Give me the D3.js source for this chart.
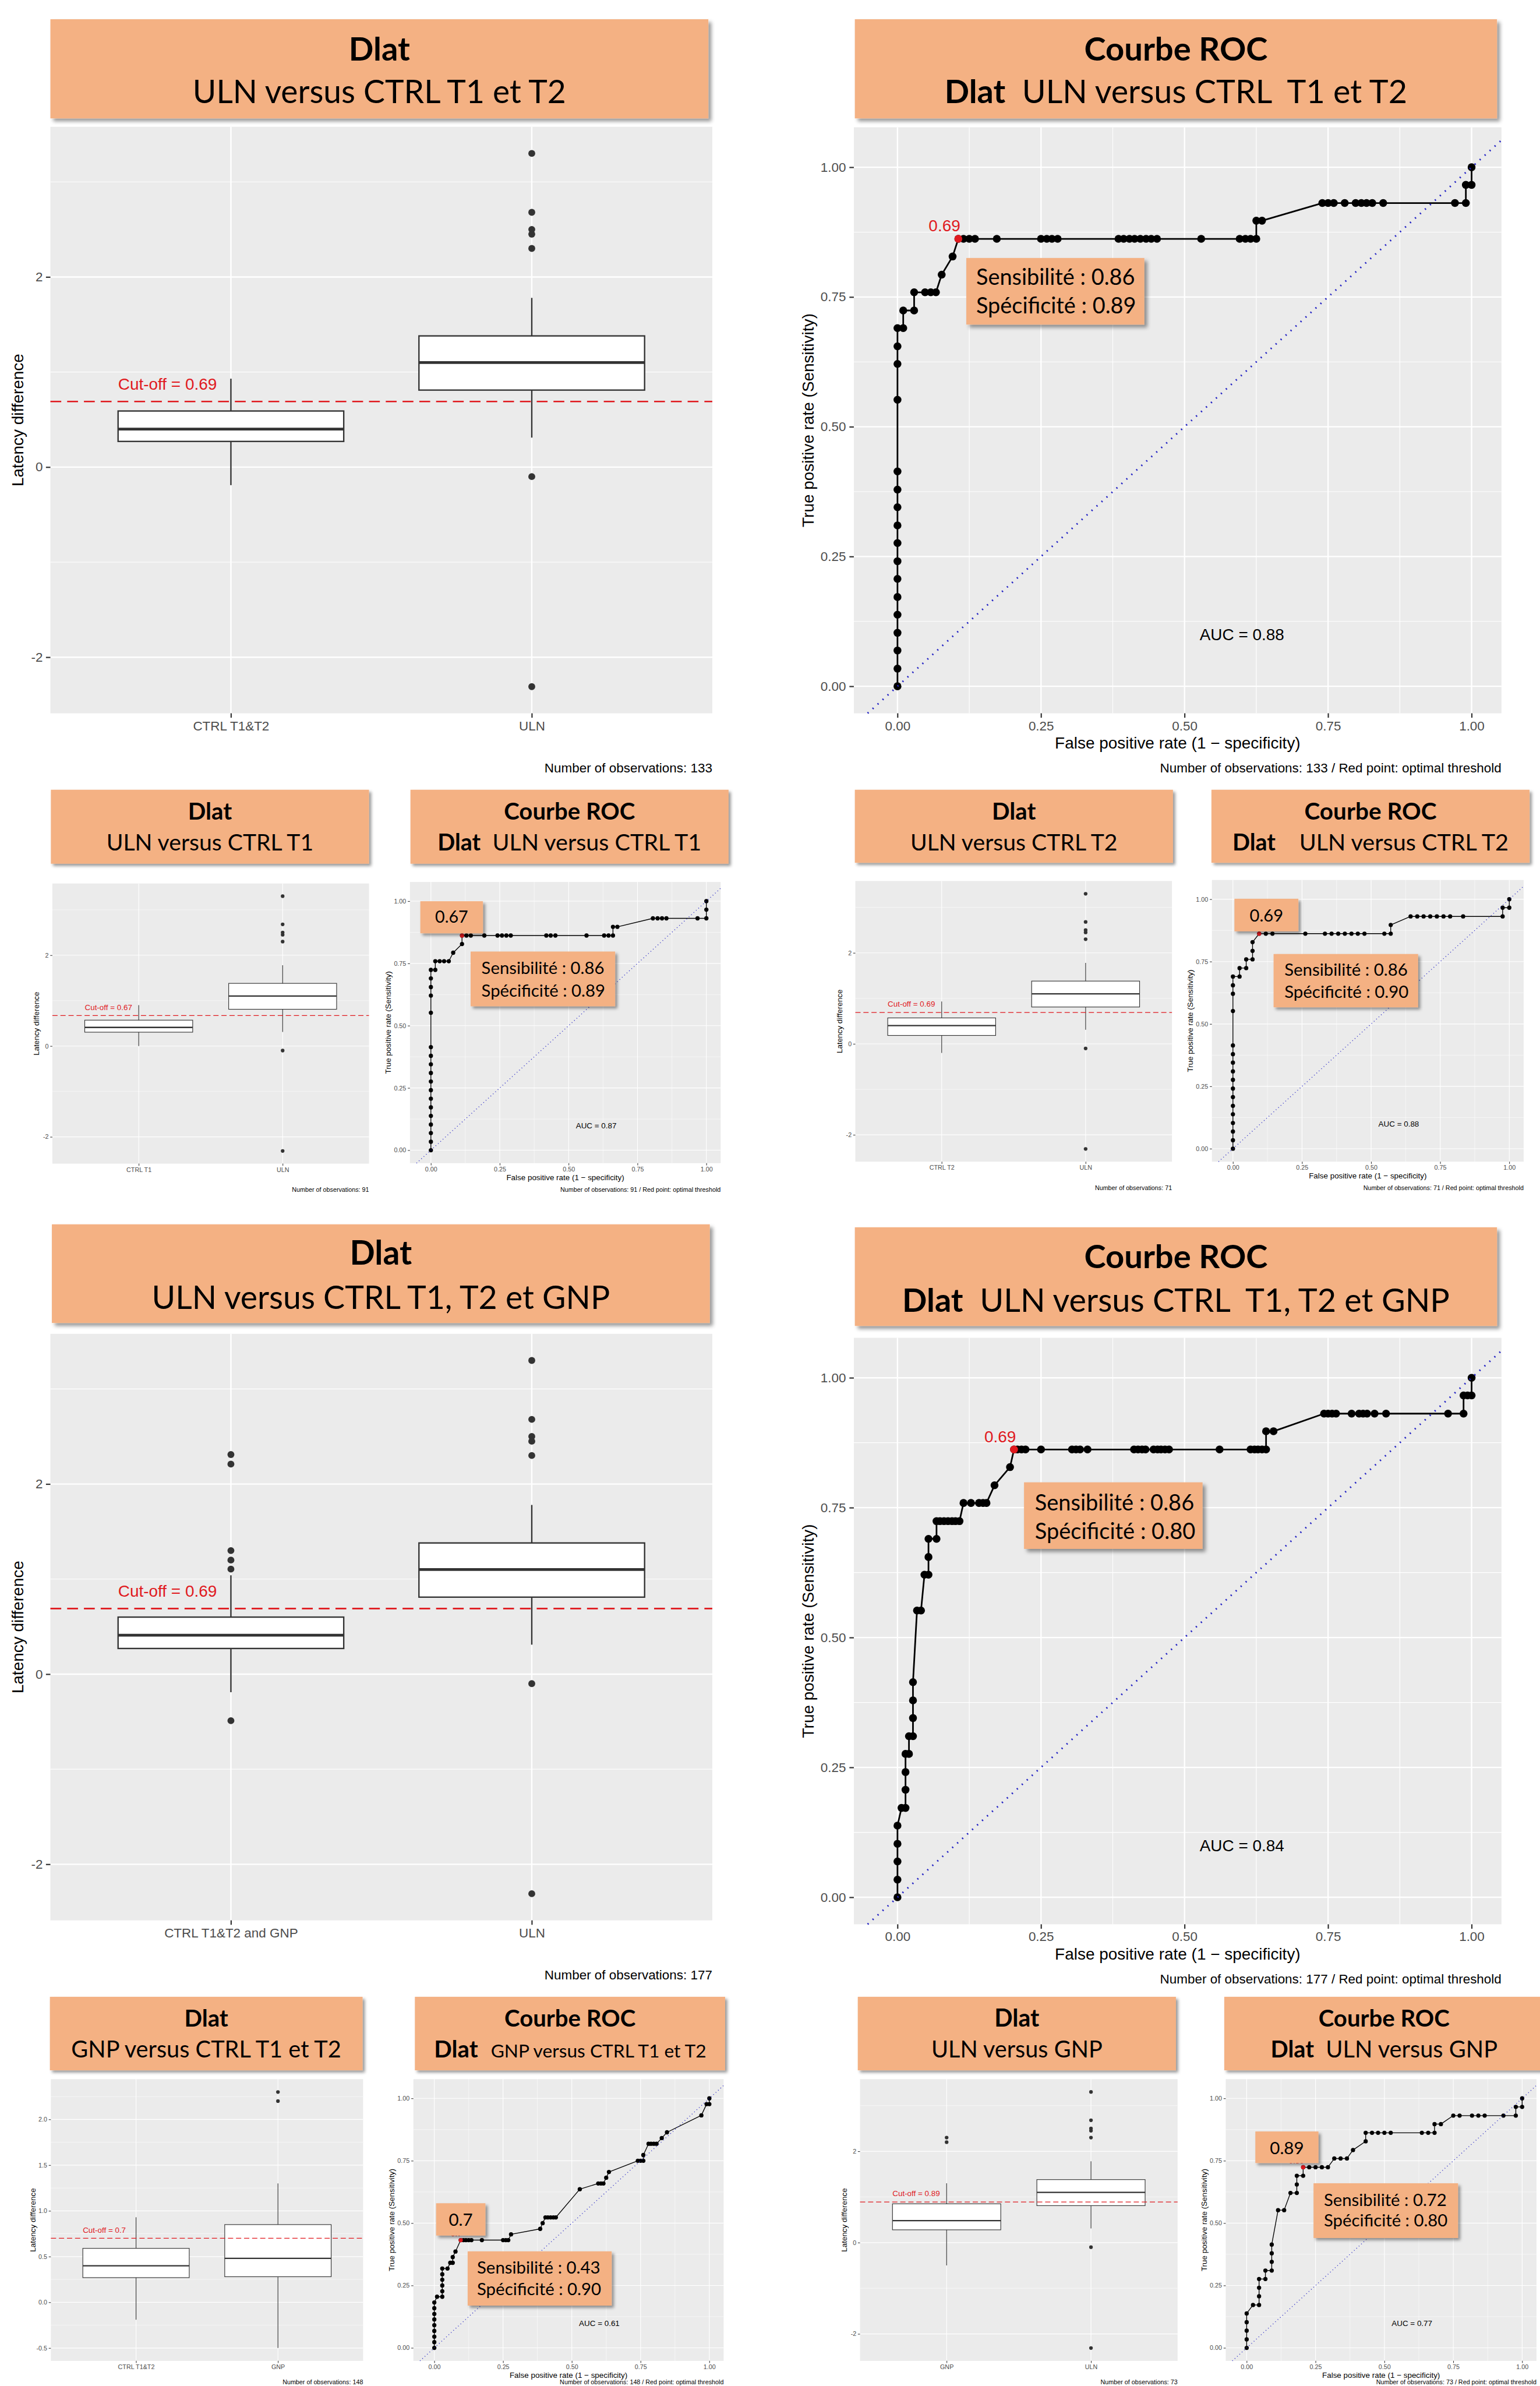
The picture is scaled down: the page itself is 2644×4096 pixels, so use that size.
<!DOCTYPE html>
<html><head><meta charset="utf-8">
<script src="https://cdn.jsdelivr.net/npm/d3@7/dist/d3.min.js"></script>
<style>html,body{margin:0;padding:0;background:#fff;} svg{display:block;}</style>
</head><body>
<script>
// ================= DATA =================
const latencyTicks = [-2, 0, 2];
const latencyMinor = [-1, 1, 3];
const gnpTicks = [-0.5, 0, 0.5, 1, 1.5, 2];
const gnpMinor = [-0.25, 0.25, 0.75, 1.25, 1.75, 2.25];
const rocTicks = [0, 0.25, 0.5, 0.75, 1];
const rocMinor = [0.125, 0.375, 0.625, 0.875];

// box stats: [lower whisker, Q1, median, Q3, upper whisker]
const statsULN = [0.31, 0.81, 1.10, 1.38, 1.78];
const outULN = [3.30, 2.68, 2.50, 2.45, 2.30, -0.10, -2.31];
const statsCtrlT1T2 = [-0.19, 0.27, 0.40, 0.59, 0.93];
const statsCtrlT1 = [0.00, 0.305, 0.41, 0.57, 0.90];
const statsCtrlT2 = [-0.20, 0.185, 0.40, 0.57, 0.93];
const statsCtrlAll = [-0.19, 0.27, 0.41, 0.60, 1.04];
const outCtrlAll = [2.31, 2.21, 1.30, 1.20, 1.105, -0.49];
const statsGNP = [-0.50, 0.28, 0.48, 0.85, 1.30];
const outGNP = [2.30, 2.20];

const cutoffs = [0.69, 0.67, 0.69, 0.69, 0.7, 0.89];
const nObs = [133, 91, 71, 177, 148, 73];
const aucValues = ['0.88', '0.87', '0.88', '0.84', '0.61', '0.77'];
const sensValues = ['0.86', '0.86', '0.86', '0.86', '0.43', '0.72'];
const specValues = ['0.89', '0.89', '0.90', '0.80', '0.90', '0.80'];
const thresholdLabels = ['0.69', '0.67', '0.69', '0.69', '0.7', '0.89'];

// ROC curves: [false positive rate, true positive rate]
const rocT1T2 = [[0,0],[0,.034],[0,.069],[0,.103],[0,.138],[0,.172],[0,.207],[0,.241],[0,.276],[0,.310],[0,.345],[0,.379],[0,.414],[0,.552],[0,.621],[0,.655],[0,.690],[.010,.690],[.010,.724],[.029,.724],[.029,.759],[.048,.759],[.058,.759],[.067,.759],[.077,.793],[.096,.828],[.106,.862],[.115,.862],[.125,.862],[.135,.862],[.173,.862],[.250,.862],[.260,.862],[.269,.862],[.279,.862],[.385,.862],[.394,.862],[.404,.862],[.413,.862],[.423,.862],[.433,.862],[.442,.862],[.452,.862],[.529,.862],[.596,.862],[.606,.862],[.615,.862],[.625,.862],[.625,.897],[.635,.897],[.740,.931],[.750,.931],[.760,.931],[.779,.931],[.798,.931],[.808,.931],[.817,.931],[.827,.931],[.846,.931],[.971,.931],[.990,.931],[.990,.966],[1,.966],[1,1]];
const optT1T2 = [.106, .862];

const rocT1 = [[0,0],[0,.034],[0,.069],[0,.103],[0,.138],[0,.172],[0,.207],[0,.241],[0,.276],[0,.310],[0,.345],[0,.379],[0,.414],[0,.552],[0,.621],[0,.655],[0,.690],[0,.724],[.016,.724],[.016,.759],[.032,.759],[.048,.759],[.065,.759],[.081,.793],[.113,.828],[.113,.862],[.129,.862],[.145,.862],[.194,.862],[.242,.862],[.258,.862],[.274,.862],[.290,.862],[.419,.862],[.435,.862],[.452,.862],[.565,.862],[.629,.862],[.645,.862],[.661,.862],[.661,.897],[.677,.897],[.806,.931],[.823,.931],[.839,.931],[.855,.931],[.968,.931],[1,.931],[1,.966],[1,1]];
const optT1 = [.113, .862];

const rocT2 = [[0,0],[0,.034],[0,.069],[0,.103],[0,.138],[0,.172],[0,.207],[0,.241],[0,.276],[0,.310],[0,.345],[0,.379],[0,.414],[0,.552],[0,.621],[0,.655],[0,.690],[.024,.690],[.024,.724],[.048,.724],[.048,.759],[.071,.759],[.071,.793],[.071,.828],[.095,.862],[.119,.862],[.143,.862],[.262,.862],[.333,.862],[.357,.862],[.381,.862],[.405,.862],[.429,.862],[.452,.862],[.476,.862],[.548,.862],[.571,.862],[.571,.897],[.643,.931],[.667,.931],[.690,.931],[.714,.931],[.738,.931],[.762,.931],[.786,.931],[.833,.931],[.976,.931],[.976,.966],[1,.966],[1,1]];
const optT2 = [.095, .862];

const rocAll = [[0,0],[0,.034],[0,.069],[0,.103],[0,.138],[.007,.172],[.014,.172],[.014,.207],[.014,.241],[.014,.276],[.020,.276],[.020,.310],[.027,.310],[.027,.345],[.027,.379],[.027,.414],[.034,.552],[.041,.552],[.047,.621],[.054,.621],[.054,.655],[.054,.690],[.068,.690],[.068,.724],[.074,.724],[.081,.724],[.088,.724],[.095,.724],[.101,.724],[.108,.724],[.115,.759],[.128,.759],[.142,.759],[.149,.759],[.155,.759],[.169,.793],[.196,.828],[.203,.862],[.209,.862],[.216,.862],[.223,.862],[.250,.862],[.304,.862],[.311,.862],[.318,.862],[.331,.862],[.412,.862],[.419,.862],[.426,.862],[.432,.862],[.446,.862],[.453,.862],[.459,.862],[.466,.862],[.473,.862],[.561,.862],[.615,.862],[.622,.862],[.628,.862],[.635,.862],[.642,.862],[.642,.897],[.655,.897],[.743,.931],[.750,.931],[.757,.931],[.764,.931],[.791,.931],[.804,.931],[.811,.931],[.818,.931],[.831,.931],[.851,.931],[.959,.931],[.986,.931],[.986,.966],[.993,.966],[1,.966],[1,1]];
const optAll = [.203, .862];

const rocGNP = [[0,0],[0,.023],[0,.045],[0,.068],[0,.091],[0,.114],[0,.136],[0,.159],[0,.182],[.010,.205],[.029,.205],[.029,.227],[.029,.250],[.029,.273],[.029,.295],[.029,.318],[.048,.318],[.058,.341],[.067,.341],[.067,.364],[.077,.386],[.096,.432],[.106,.432],[.115,.432],[.125,.432],[.135,.432],[.173,.432],[.250,.432],[.260,.432],[.269,.432],[.279,.455],[.385,.477],[.394,.500],[.404,.523],[.413,.523],[.423,.523],[.433,.523],[.442,.523],[.529,.636],[.596,.659],[.606,.659],[.615,.659],[.625,.682],[.635,.705],[.740,.750],[.750,.750],[.760,.750],[.760,.773],[.779,.818],[.788,.818],[.798,.818],[.808,.818],[.827,.841],[.846,.864],[.971,.932],[.990,.977],[1,.977],[1,1]];
const optGNP = [.096, .432];

const rocUG = [[0,0],[0,.034],[0,.069],[0,.103],[0,.138],[.023,.172],[.045,.172],[.045,.207],[.045,.241],[.045,.276],[.068,.276],[.068,.310],[.091,.310],[.091,.345],[.091,.379],[.091,.414],[.114,.552],[.136,.552],[.159,.621],[.182,.621],[.182,.655],[.182,.690],[.205,.690],[.205,.724],[.227,.724],[.250,.724],[.273,.724],[.295,.724],[.318,.759],[.341,.759],[.364,.759],[.386,.793],[.432,.828],[.432,.862],[.455,.862],[.477,.862],[.500,.862],[.523,.862],[.636,.862],[.659,.862],[.682,.862],[.682,.897],[.705,.897],[.750,.931],[.773,.931],[.818,.931],[.841,.931],[.864,.931],[.932,.931],[.977,.931],[.977,.966],[1,.966],[1,1]];
const optUG = [.205, .724];

// ================= LAYOUT =================
const FONT = "'Liberation Sans', Arial, Helvetica, sans-serif";
const TFONT = "Lato, 'Open Sans', sans-serif";
const ORANGE = '#F4B183';
const RED = '#E0191E';
const VIEW_H = 4837;

const svg = d3.select('body').append('svg')
  .attr('width', 2644).attr('height', 4096)
  .attr('viewBox', '0 0 3122 4837');
const defs = svg.append('defs');
function shadow(id, d, s) {
  const f = defs.append('filter').attr('id', id)
    .attr('x', '-10%').attr('y', '-15%').attr('width', '125%').attr('height', '140%');
  f.append('feDropShadow').attr('dx', d).attr('dy', d).attr('stdDeviation', s)
    .attr('flood-color', '#000').attr('flood-opacity', 0.4);
}
shadow('shBig', 6, 4);
shadow('shSmall', 4.5, 3);

function fitText(t, w) {
  t.attr('font-size', 100);
  const bw = t.node().getComputedTextLength();
  t.attr('font-size', 100 * w / bw);
  return 100 * w / bw;
}

function titleBox(tb) {
  const [bx0, by0, bx1, by1] = tb.box;
  const g = svg.append('g');
  g.append('rect').attr('x', bx0).attr('y', by0).attr('width', bx1 - bx0).attr('height', by1 - by0)
    .attr('fill', ORANGE).attr('filter', tb.big ? 'url(#shBig)' : 'url(#shSmall)');
  const cxDef = tb.cx != null ? tb.cx : (bx0 + bx1) / 2;
  tb.lines.forEach(l => {
    const t = g.append('text')
      .attr('x', l.x != null ? l.x : cxDef).attr('y', l.y)
      .attr('text-anchor', l.anchor || 'middle')
      .attr('font-family', TFONT).attr('fill', '#000')
      .style('white-space', 'pre');
    l.spans.forEach(s => t.append('tspan').attr('font-weight', s[1]).text(s[0]));
    fitText(t, l.w);
  });
}

const titleBoxes = [
  {box:[102,39,1436,240], big:true, lines:[{y:122.5,w:124,spans:[['Dlat',700]]},{y:209,w:757,spans:[['ULN versus CTRL T1 et T2',400]]}]},
  {box:[1733,39,3035,240], big:true, lines:[{y:122.5,w:372,spans:[['Courbe ROC',700]]},{y:209,w:938,spans:[['Dlat',700],['  ULN versus CTRL  T1 et T2',400]]}]},
  {box:[103,1601,748,1751], lines:[{y:1661,w:89,spans:[['Dlat',700]]},{y:1724,w:420,spans:[['ULN versus CTRL T1',400]]}]},
  {box:[832,1601,1477,1751], lines:[{y:1661,w:266,spans:[['Courbe ROC',700]]},{y:1724,w:535,spans:[['Dlat',700],['  ULN versus CTRL T1',400]]}]},
  {box:[1733,1601,2378,1749], lines:[{y:1661,w:89,spans:[['Dlat',700]]},{y:1724,w:420,spans:[['ULN versus CTRL T2',400]]}]},
  {box:[2456,1601,3101,1749], lines:[{y:1661,w:268,spans:[['Courbe ROC',700]]},{y:1724,w:560,spans:[['Dlat',700],['    ULN versus CTRL T2',400]]}]},
  {box:[105,2482,1439,2682], big:true, lines:[{y:2564,w:126,spans:[['Dlat',700]]},{y:2653.5,w:929,spans:[['ULN versus CTRL T1, T2 et GNP',400]]}]},
  {box:[1733,2488,3035,2688], big:true, lines:[{y:2571,w:372,spans:[['Courbe ROC',700]]},{y:2659.5,w:1110,spans:[['Dlat',700],['  ULN versus CTRL  T1, T2 et GNP',400]]}]},
  {box:[101,4048,735,4197], lines:[{y:4108.7,w:89,spans:[['Dlat',700]]},{y:4171.5,w:547.6,spans:[['GNP versus CTRL T1 et T2',400]]}]},
  {box:[841,4048,1470,4197], lines:[{y:4108.7,w:266,spans:[['Courbe ROC',700]]},{y:4171.5,x:880,anchor:'start',w:89,spans:[['Dlat',700]]},{y:4171.5,x:995,anchor:'start',w:437,spans:[['GNP versus CTRL T1 et T2',400]]}]},
  {box:[1739,4048,2384,4197], lines:[{y:4108.7,w:91,spans:[['Dlat',700]]},{y:4171.5,w:347,spans:[['ULN versus GNP',400]]}]},
  {box:[2482,4048,3135,4197], cx:2806, lines:[{y:4108.7,w:266,spans:[['Courbe ROC',700]]},{y:4171.5,w:460,spans:[['Dlat',700],['  ULN versus GNP',400]]}]}
];

const boxPanels = [
  {x0:102,x1:1444,y0:257,y1:1446,k:1,ydom:[-2.59,3.58],ticks:latencyTicks,minor:latencyMinor,fmt:d=>String(d),cats:['CTRL T1&T2','ULN'],groups:[[statsCtrlT1T2,[]],[statsULN,outULN]],i:0,tOff:55,r:7},
  {x0:106,x1:748,y0:1791,y1:2359,k:0.48,ydom:[-2.59,3.58],ticks:latencyTicks,minor:latencyMinor,fmt:d=>String(d),cats:['CTRL T1','ULN'],groups:[[statsCtrlT1,[]],[statsULN,outULN]],i:1,tOff:26.5,r:3.7},
  {x0:1734,x1:2376,y0:1786,y1:2355,k:0.48,ydom:[-2.59,3.58],ticks:latencyTicks,minor:latencyMinor,fmt:d=>String(d),cats:['CTRL T2','ULN'],groups:[[statsCtrlT2,[]],[statsULN,outULN]],i:2,tOff:26.5,r:3.7},
  {x0:102,x1:1444,y0:2704,y1:3893,k:1,ydom:[-2.59,3.58],ticks:latencyTicks,minor:latencyMinor,fmt:d=>String(d),cats:['CTRL T1&T2 and GNP','ULN'],groups:[[statsCtrlAll,outCtrlAll],[statsULN,outULN]],i:3,tOff:55,r:7},
  {x0:103,x1:736,y0:4215,y1:4786,k:0.48,ydom:[-0.64,2.44],ticks:gnpTicks,minor:gnpMinor,fmt:d=>d.toFixed(1),cats:['CTRL T1&T2','GNP'],groups:[[statsCtrlT1T2,[]],[statsGNP,outGNP]],i:4,tOff:31,r:3.7},
  {x0:1743.5,x1:2387.4,y0:4215,y1:4786,k:0.48,ydom:[-2.59,3.58],ticks:latencyTicks,minor:latencyMinor,fmt:d=>String(d),cats:['GNP','ULN'],groups:[[statsGNP,outGNP],[statsULN,outULN]],i:5,tOff:26.5,r:3.7}
];

const rocPanels = [
  {x0:1731,x1:3044,y0:258,y1:1446,k:1,data:rocT1T2,opt:optT1T2,i:0,r:8,
   sens:{box:[1959,523,2320,658],tx:1979,b1:577.5,b2:635,w:322,big:true}},
  {x0:831,x1:1461,y0:1788,y1:2358,k:0.48,data:rocT1,opt:optT1,i:1,r:4.3,
   sens:{box:[954,1929,1247,2040],tx:976,b1:1975,b2:2020,w:249},
   val:{box:[852,1827,979,1892],cx:915.5,b:1870.7,w:67}},
  {x0:2457,x1:3089,y0:1784,y1:2355,k:0.48,data:rocT2,opt:optT2,i:2,r:4.3,
   sens:{box:[2582,1934,2875,2042],tx:2604,b1:1977.7,b2:2023,w:250},
   val:{box:[2502.6,1822,2632.3,1888],cx:2567.5,b:1868,w:68}},
  {x0:1731,x1:3044,y0:2712,y1:3901,k:1,data:rocAll,opt:optAll,i:3,r:8,
   sens:{box:[2076,3005,2438,3140],tx:2098,b1:3062,b2:3119.5,w:323,big:true}},
  {x0:838,x1:1467,y0:4215,y1:4786,k:0.48,data:rocGNP,opt:optGNP,i:4,r:4.3,
   sens:{box:[948,4564,1240,4674],tx:967,b1:4609,b2:4653,w:250},
   val:{box:[884,4466.5,984,4532],cx:934,b:4511.7,w:48.7}},
  {x0:2485,x1:3115,y0:4215,y1:4786,k:0.48,data:rocUG,opt:optUG,i:5,r:4.3,
   sens:{box:[2663,4426,2956,4537],tx:2684,b1:4471.6,b2:4513.8,w:249},
   val:{box:[2545,4321,2673,4385],cx:2609,b:4367,w:69}}
];

// caption baseline: below the panel, kept inside the picture
function captionY(p) { return Math.min(p.y1 + 120 * p.k, VIEW_H - 3); }

function styleAxis(ga, k) {
  ga.select('.domain').remove();
  ga.selectAll('.tick line').attr('stroke', '#333333').attr('stroke-width', 2.6 * k);
  ga.selectAll('.tick text').attr('fill', '#4D4D4D').attr('font-size', 26.5 * k).attr('font-family', FONT);
}

function boxPanel(p) {
  const k = p.k, g = svg.append('g');
  const x = d3.scaleLinear().domain([0.4, 2.6]).range([p.x0, p.x1]);
  const y = d3.scaleLinear().domain(p.ydom).range([p.y1, p.y0]);
  g.append('rect').attr('x', p.x0).attr('y', p.y0).attr('width', p.x1 - p.x0).attr('height', p.y1 - p.y0).attr('fill', '#EBEBEB');
  g.selectAll('line.mi').data(p.minor.filter(v => v > p.ydom[0] && v < p.ydom[1])).join('line').attr('class', 'mi')
    .attr('x1', p.x0).attr('x2', p.x1).attr('y1', d => y(d)).attr('y2', d => y(d))
    .attr('stroke', '#fff').attr('stroke-width', 1.4 * k);
  g.selectAll('line.ma').data(p.ticks).join('line').attr('class', 'ma')
    .attr('x1', p.x0).attr('x2', p.x1).attr('y1', d => y(d)).attr('y2', d => y(d))
    .attr('stroke', '#fff').attr('stroke-width', 2.8 * k);
  g.selectAll('line.vg').data([1, 2]).join('line').attr('class', 'vg')
    .attr('x1', d => x(d)).attr('x2', d => x(d)).attr('y1', p.y0).attr('y2', p.y1)
    .attr('stroke', '#fff').attr('stroke-width', 2.8 * k);
  const hw = x(1.375) - x(1);
  p.groups.forEach((grp, j) => {
    const s = grp[0], outs = grp[1], cx = x(j + 1);
    g.append('line').attr('x1', cx).attr('x2', cx).attr('y1', y(s[0])).attr('y2', y(s[4]))
      .attr('stroke', '#333333').attr('stroke-width', 2.8 * k);
    g.append('rect').attr('x', cx - hw).attr('width', 2 * hw).attr('y', y(s[3])).attr('height', y(s[1]) - y(s[3]))
      .attr('fill', '#fff').attr('stroke', '#333333').attr('stroke-width', 2.8 * k);
    g.append('line').attr('x1', cx - hw).attr('x2', cx + hw).attr('y1', y(s[2])).attr('y2', y(s[2]))
      .attr('stroke', '#333333').attr('stroke-width', 5.6 * k);
    g.selectAll(null).data(outs).join('circle').attr('cx', cx).attr('cy', d => y(d)).attr('r', p.r).attr('fill', '#333333');
  });
  const cut = cutoffs[p.i];
  g.append('line').attr('x1', p.x0).attr('x2', p.x1).attr('y1', y(cut)).attr('y2', y(cut))
    .attr('stroke', RED).attr('stroke-width', 3 * k).attr('stroke-dasharray', `${22 * k} ${12 * k}`);
  g.append('text').attr('x', x(1) - hw).attr('y', y(cut) - 24 * k).attr('fill', RED)
    .attr('font-family', FONT).attr('font-size', 33 * k).text('Cut-off = ' + cut);
  const ya = d3.axisLeft(y).tickValues(p.ticks).tickFormat(p.fmt).tickSize(9 * k).tickPadding(6.5 * k);
  styleAxis(g.append('g').attr('transform', `translate(${p.x0},0)`).call(ya), k);
  const xa = d3.axisBottom(x).tickValues([1, 2]).tickFormat((d, i) => p.cats[i]).tickSize(9 * k).tickPadding(6.5 * k);
  styleAxis(g.append('g').attr('transform', `translate(0,${p.y1})`).call(xa), k);
  g.append('text').attr('transform', `translate(${p.x0 - p.tOff},${(p.y0 + p.y1) / 2}) rotate(-90)`)
    .attr('text-anchor', 'middle').attr('font-family', FONT).attr('font-size', 33 * k).attr('fill', '#000')
    .text('Latency difference');
  g.append('text').attr('x', p.x1).attr('y', captionY(p)).attr('text-anchor', 'end')
    .attr('font-family', FONT).attr('font-size', 26.5 * k).attr('fill', '#000')
    .text('Number of observations: ' + nObs[p.i]);
}

function overlayBox(g, b, big) {
  g.append('rect').attr('x', b[0]).attr('y', b[1]).attr('width', b[2] - b[0]).attr('height', b[3] - b[1])
    .attr('fill', ORANGE).attr('filter', big ? 'url(#shBig)' : 'url(#shSmall)');
}

function rocPanel(p) {
  const k = p.k, g = svg.append('g');
  const x = d3.scaleLinear().domain([-0.076, 1.052]).range([p.x0, p.x1]);
  const y = d3.scaleLinear().domain([-0.052, 1.077]).range([p.y1, p.y0]);
  g.append('rect').attr('x', p.x0).attr('y', p.y0).attr('width', p.x1 - p.x0).attr('height', p.y1 - p.y0).attr('fill', '#EBEBEB');
  [[rocMinor, 1.4], [rocTicks, 2.8]].forEach(([vals, w]) => {
    g.selectAll(null).data(vals).join('line')
      .attr('x1', p.x0).attr('x2', p.x1).attr('y1', d => y(d)).attr('y2', d => y(d))
      .attr('stroke', '#fff').attr('stroke-width', w * k);
    g.selectAll(null).data(vals).join('line')
      .attr('x1', d => x(d)).attr('x2', d => x(d)).attr('y1', p.y0).attr('y2', p.y1)
      .attr('stroke', '#fff').attr('stroke-width', w * k);
  });
  const line = d3.line().x(d => x(d[0])).y(d => y(d[1]));
  g.append('path').datum(p.data).attr('d', line).attr('fill', 'none')
    .attr('stroke', '#000').attr('stroke-width', 3.3 * k).attr('stroke-linejoin', 'round');
  g.selectAll(null).data(p.data).join('circle')
    .attr('cx', d => x(d[0])).attr('cy', d => y(d[1])).attr('r', p.r).attr('fill', '#000');
  g.append('circle').attr('cx', x(p.opt[0])).attr('cy', y(p.opt[1])).attr('r', p.r).attr('fill', RED);
  g.append('text').attr('x', x(p.opt[0]) + 4 * k).attr('y', y(p.opt[1]) - 15 * k)
    .attr('text-anchor', 'end').attr('fill', RED).attr('font-family', FONT).attr('font-size', 33 * k)
    .text(thresholdLabels[p.i]);
  const t0 = Math.max(x.domain()[0], y.domain()[0]), t1 = Math.min(x.domain()[1], y.domain()[1]);
  g.append('line').attr('x1', x(t0)).attr('y1', y(t0)).attr('x2', x(t1)).attr('y2', y(t1))
    .attr('stroke', '#2424C4').attr('stroke-width', 3.6 * k).attr('stroke-dasharray', `${2.6 * k} ${11 * k}`);
  g.append('text').attr('x', x(0.6)).attr('y', y(0.1)).attr('dy', '0.36em').attr('text-anchor', 'middle')
    .attr('font-family', FONT).attr('font-size', 33 * k).attr('fill', '#000').text('AUC = ' + aucValues[p.i]);
  const ya = d3.axisLeft(y).tickValues(rocTicks).tickFormat(d => d.toFixed(2)).tickSize(9 * k).tickPadding(7 * k);
  styleAxis(g.append('g').attr('transform', `translate(${p.x0},0)`).call(ya), k);
  const xa = d3.axisBottom(x).tickValues(rocTicks).tickFormat(d => d.toFixed(2)).tickSize(9 * k).tickPadding(6.5 * k);
  styleAxis(g.append('g').attr('transform', `translate(0,${p.y1})`).call(xa), k);
  g.append('text').attr('transform', `translate(${p.x0 - 81 * k},${(p.y0 + p.y1) / 2}) rotate(-90)`)
    .attr('text-anchor', 'middle').attr('font-family', FONT).attr('font-size', 33 * k).attr('fill', '#000')
    .text('True positive rate (Sensitivity)');
  g.append('text').attr('x', (p.x0 + p.x1) / 2).attr('y', p.y1 + 72 * k).attr('text-anchor', 'middle')
    .attr('font-family', FONT).attr('font-size', 33 * k).attr('fill', '#000')
    .text('False positive rate (1 \u2212 specificity)');
  g.append('text').attr('x', p.x1).attr('y', captionY(p)).attr('text-anchor', 'end')
    .attr('font-family', FONT).attr('font-size', 26.5 * k).attr('fill', '#000')
    .text('Number of observations: ' + nObs[p.i] + ' / Red point: optimal threshold');
  // overlays
  if (p.val) {
    overlayBox(g, p.val.box, false);
    const t = g.append('text').attr('x', p.val.cx).attr('y', p.val.b).attr('text-anchor', 'middle')
      .attr('font-family', TFONT).attr('fill', '#000').text(thresholdLabels[p.i]);
    fitText(t, p.val.w);
  }
  const s = p.sens;
  overlayBox(g, s.box, s.big);
  const t1s = g.append('text').attr('x', s.tx).attr('y', s.b1).attr('font-family', TFONT).attr('fill', '#000')
    .text('Sensibilit\u00e9 : ' + sensValues[p.i]);
  const fs = fitText(t1s, s.w);
  g.append('text').attr('x', s.tx).attr('y', s.b2).attr('font-family', TFONT).attr('fill', '#000')
    .attr('font-size', fs).text('Sp\u00e9cificit\u00e9 : ' + specValues[p.i]);
}

titleBoxes.forEach(titleBox);
boxPanels.forEach(boxPanel);
rocPanels.forEach(rocPanel);
</script>
</body></html>
